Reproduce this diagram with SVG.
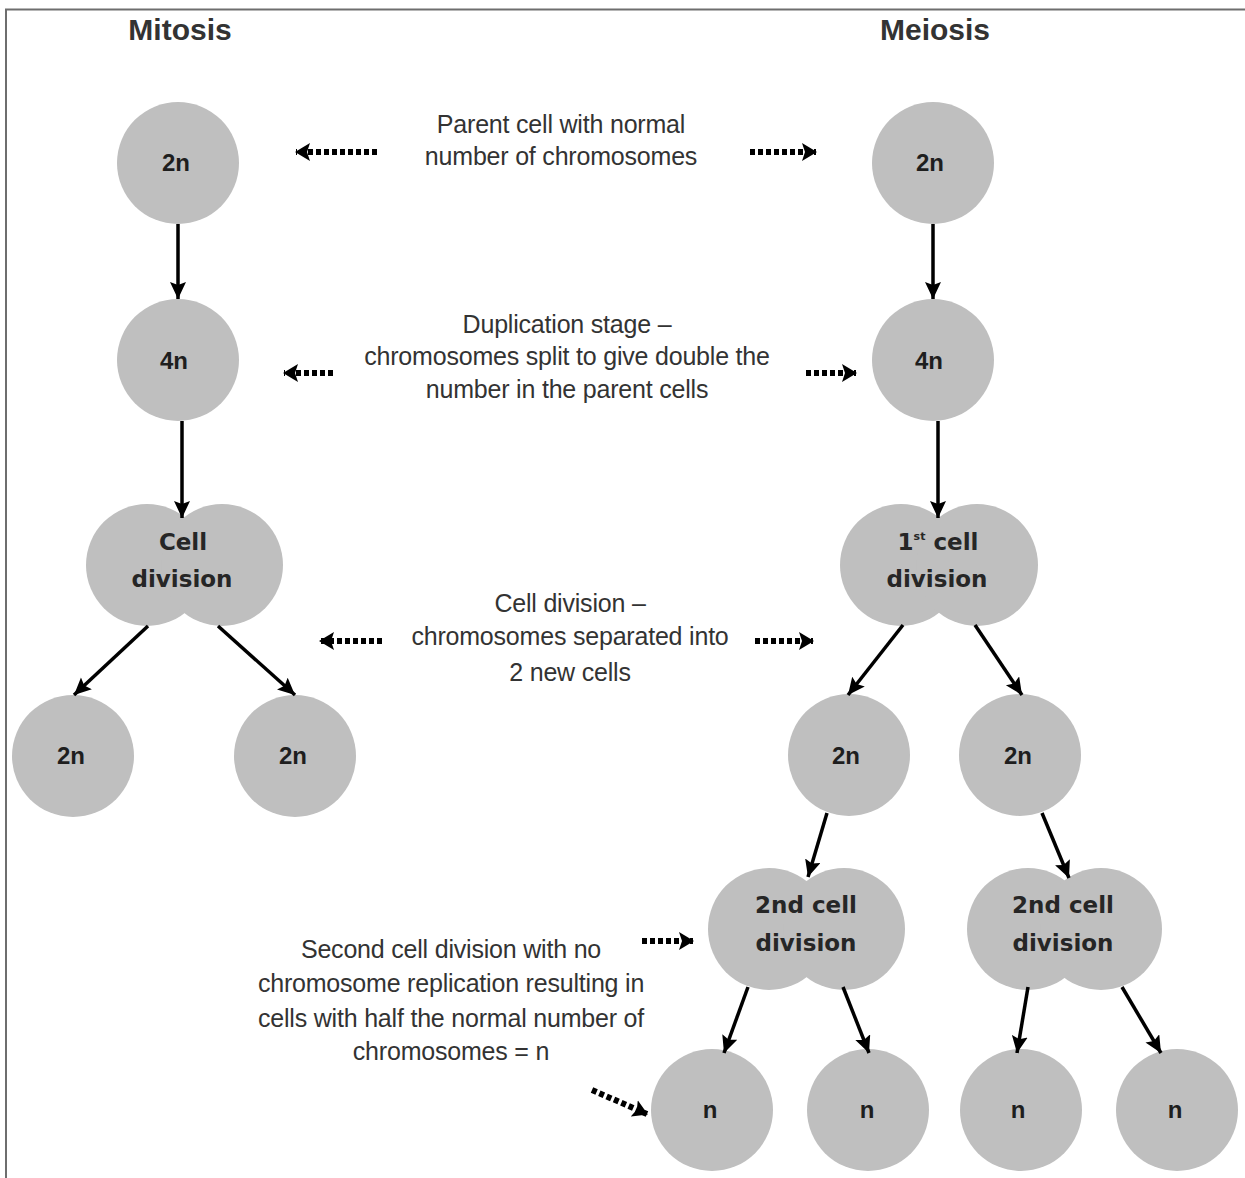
<svg xmlns="http://www.w3.org/2000/svg" width="1245" height="1178" viewBox="0 0 1245 1178">
  <style>
    .cell { fill: #bfbfbf; }
    .num { font-family: "Liberation Sans", Arial, sans-serif; font-weight: bold; font-size: 24px; fill: #1e1e1e; text-anchor: middle; }
    .div { font-family: "DejaVu Sans", Verdana, sans-serif; font-weight: bold; font-size: 23px; fill: #262626; text-anchor: middle; }
    .title { font-family: "Liberation Sans", Arial, sans-serif; font-weight: bold; font-size: 30px; fill: #333; text-anchor: middle; }
    .note { font-family: "Liberation Sans", Arial, sans-serif; font-size: 25px; fill: #333; text-anchor: middle; letter-spacing: -0.2px; }
    .link { stroke: #000; stroke-width: 3.5; fill: none; marker-end: url(#head); }
    .hint { stroke: #000; stroke-width: 6; stroke-dasharray: 5 3; fill: none; marker-end: url(#dhead); }
  </style>
  <defs>
    <marker id="head" markerUnits="userSpaceOnUse" markerWidth="18" markerHeight="18" refX="17" refY="8" orient="auto">
      <path d="M0,0 L17,8 L0,16 L3,8 z" fill="#000"/>
    </marker>
    <marker id="dhead" markerUnits="userSpaceOnUse" markerWidth="16" markerHeight="18" refX="14" refY="9" orient="auto">
      <path d="M0,0 L15,9 L0,18 L3,9 z" fill="#000"/>
    </marker>
  </defs>

  <rect width="1245" height="1178" fill="#fff"/>
  <!-- frame (top and left edges) -->
  <path d="M6,1178 V9.5 H1245" fill="none" stroke="#6e6e6e" stroke-width="2"/>

  <text class="title" x="180" y="40">Mitosis</text>
  <text class="title" x="935" y="40">Meiosis</text>

  <!-- mitosis column -->
  <g id="mit-parent"><circle class="cell" cx="178" cy="163" r="61"/><text class="num" x="176" y="171">2n</text></g>
  <g id="mit-dup"><circle class="cell" cx="178" cy="360" r="61"/><text class="num" x="174" y="369">4n</text></g>
  <g id="mit-division"><circle class="cell" cx="147" cy="565" r="61"/><circle class="cell" cx="222" cy="565" r="61"/>
    <text class="div" x="183" y="550">Cell</text><text class="div" x="182" y="587">division</text></g>
  <g id="mit-child-a"><circle class="cell" cx="73" cy="756" r="61"/><text class="num" x="71" y="764">2n</text></g>
  <g id="mit-child-b"><circle class="cell" cx="295" cy="756" r="61"/><text class="num" x="293" y="764">2n</text></g>

  <!-- meiosis column -->
  <g id="mei-parent"><circle class="cell" cx="933" cy="163" r="61"/><text class="num" x="930" y="171">2n</text></g>
  <g id="mei-dup"><circle class="cell" cx="933" cy="360" r="61"/><text class="num" x="929" y="369">4n</text></g>
  <g id="mei-div1"><circle class="cell" cx="901" cy="565" r="61"/><circle class="cell" cx="977" cy="565" r="61"/>
    <text class="div" x="938" y="550"><tspan>1</tspan><tspan font-size="11" dy="-10">st</tspan><tspan dy="10"> cell</tspan></text>
    <text class="div" x="937" y="587">division</text></g>
  <g id="mei-child-a"><circle class="cell" cx="849" cy="755" r="61"/><text class="num" x="846" y="764">2n</text></g>
  <g id="mei-child-b"><circle class="cell" cx="1020" cy="755" r="61"/><text class="num" x="1018" y="764">2n</text></g>
  <g id="mei-div2-a"><circle class="cell" cx="769" cy="929" r="61"/><circle class="cell" cx="844" cy="929" r="61"/>
    <text class="div" x="806" y="913">2nd cell</text><text class="div" x="806" y="951">division</text></g>
  <g id="mei-div2-b"><circle class="cell" cx="1028" cy="929" r="61"/><circle class="cell" cx="1101" cy="929" r="61"/>
    <text class="div" x="1063" y="913">2nd cell</text><text class="div" x="1063" y="951">division</text></g>
  <g id="mei-n1"><circle class="cell" cx="712" cy="1110" r="61"/><text class="num" x="710" y="1118">n</text></g>
  <g id="mei-n2"><circle class="cell" cx="868" cy="1110" r="61"/><text class="num" x="867" y="1118">n</text></g>
  <g id="mei-n3"><circle class="cell" cx="1021" cy="1110" r="61"/><text class="num" x="1018" y="1118">n</text></g>
  <g id="mei-n4"><circle class="cell" cx="1177" cy="1110" r="61"/><text class="num" x="1175" y="1118">n</text></g>

  <!-- stage notes -->
  <g id="note-parent">
    <text class="note" x="561" y="133">Parent cell with normal</text>
    <text class="note" x="561" y="165">number of chromosomes</text>
  </g>
  <g id="note-dup">
    <text class="note" x="567" y="333">Duplication stage –</text>
    <text class="note" x="567" y="365">chromosomes split to give double the</text>
    <text class="note" x="567" y="398">number in the parent cells</text>
  </g>
  <g id="note-division">
    <text class="note" x="570" y="612">Cell division –</text>
    <text class="note" x="570" y="645">chromosomes separated into</text>
    <text class="note" x="570" y="681">2 new cells</text>
  </g>
  <g id="note-second">
    <text class="note" x="451" y="958">Second cell division with no</text>
    <text class="note" x="451" y="992">chromosome replication resulting in</text>
    <text class="note" x="451" y="1027">cells with half the normal number of</text>
    <text class="note" x="451" y="1060">chromosomes = n</text>
  </g>

  <!-- connectors -->
  <g id="connectors">
    <line class="link" x1="178" y1="224" x2="178" y2="299"/>
    <line class="link" x1="182" y1="421" x2="182" y2="518"/>
    <line class="link" x1="148" y1="626" x2="74" y2="695"/>
    <line class="link" x1="218" y1="626" x2="295" y2="695"/>

    <line class="link" x1="933" y1="224" x2="933" y2="299"/>
    <line class="link" x1="938" y1="421" x2="938" y2="518"/>
    <line class="link" x1="903" y1="625" x2="848" y2="695"/>
    <line class="link" x1="975" y1="625" x2="1022" y2="695"/>
    <line class="link" x1="827" y1="813" x2="808" y2="877"/>
    <line class="link" x1="1042" y1="813" x2="1069" y2="878"/>
    <line class="link" x1="748" y1="987" x2="724" y2="1053"/>
    <line class="link" x1="843" y1="987" x2="869" y2="1053"/>
    <line class="link" x1="1028" y1="987" x2="1017" y2="1053"/>
    <line class="link" x1="1122" y1="987" x2="1161" y2="1053"/>

    <line class="hint" x1="377" y1="152" x2="296" y2="152"/>
    <line class="hint" x1="750" y1="152" x2="816" y2="152"/>
    <line class="hint" x1="333" y1="373" x2="284" y2="373"/>
    <line class="hint" x1="806" y1="373" x2="856" y2="373"/>
    <line class="hint" x1="382" y1="641" x2="320" y2="641"/>
    <line class="hint" x1="755" y1="641" x2="813" y2="641"/>
    <line class="hint" x1="642" y1="941" x2="693" y2="941"/>
    <line class="hint" x1="592" y1="1090" x2="647" y2="1114"/>
  </g>
</svg>
